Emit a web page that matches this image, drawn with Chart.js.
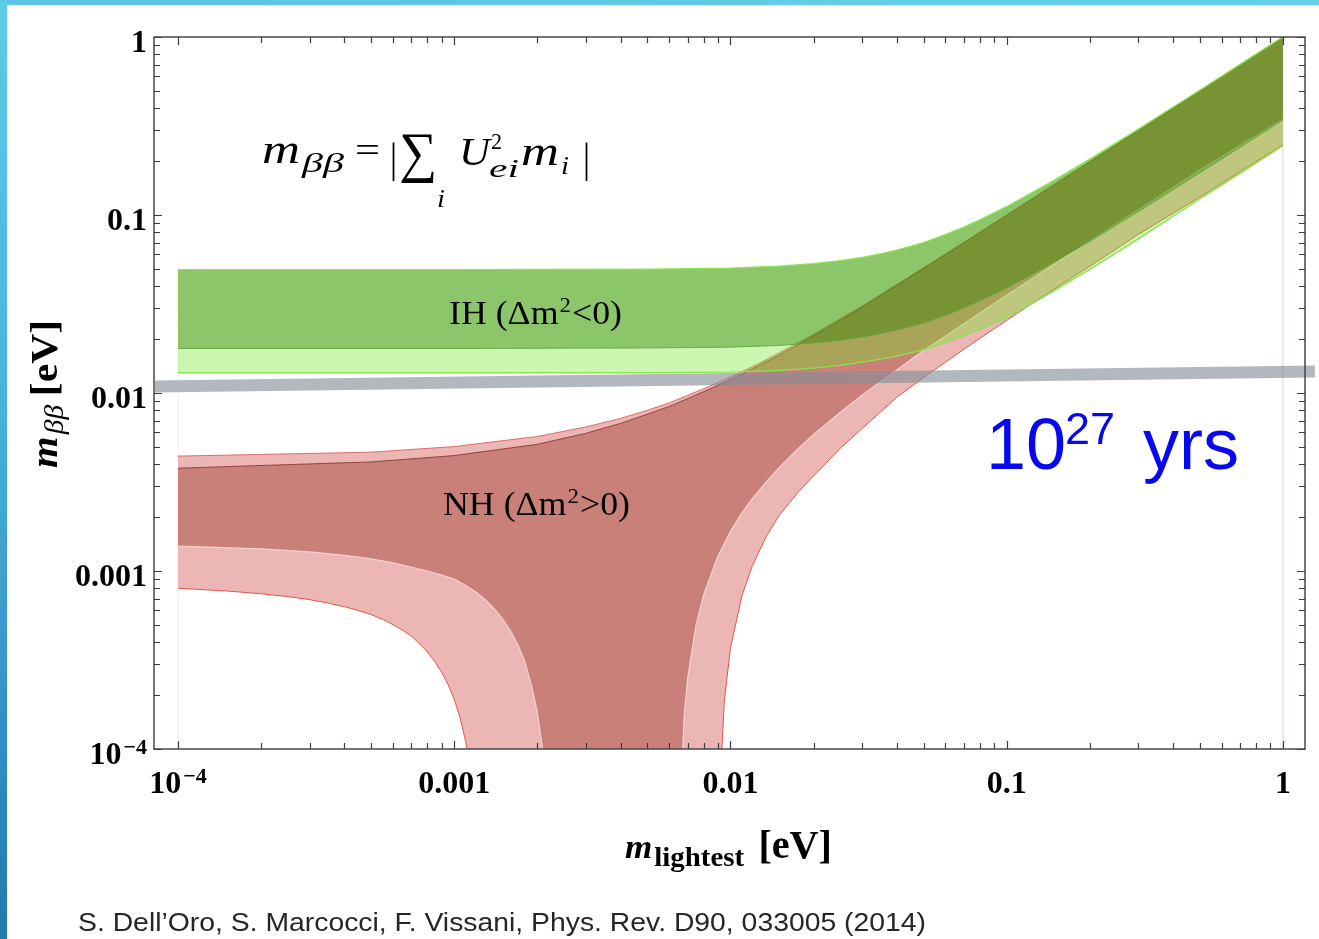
<!DOCTYPE html>
<html>
<head>
<meta charset="utf-8">
<script src="https://cdn.jsdelivr.net/npm/chart.js@4.4.1/dist/chart.umd.min.js"></script>
<style>
html,body{margin:0;padding:0;background:#fff;width:1319px;height:939px;overflow:hidden;}
#c{position:absolute;left:0;top:0;}
#topbar{position:absolute;left:0;top:0;width:1319px;height:5px;background:linear-gradient(90deg,#5cc3e2,#66d0ea);}
#leftbar{position:absolute;left:0;top:0;width:7px;height:939px;background:linear-gradient(180deg,#5ecbe8 0%,#4bb4dc 40%,#3393c6 75%,#2479ad 100%);}
</style>
</head>
<body>
<canvas id="c" width="1319" height="939"></canvas>
<div id="topbar"></div>
<div id="leftbar"></div>
<script>
// ---------------- DATA ----------------
const xTickValues = [1e-4, 1e-3, 1e-2, 1e-1, 1];
const xTickLabels = ['10^-4', '0.001', '0.01', '0.1', '1'];
const yTickValues = [1e-4, 1e-3, 1e-2, 1e-1, 1];
const yTickLabels = ['10^-4', '0.001', '0.01', '0.1', '1'];

// Inverted hierarchy band (green)
const ihX        = [1e-4, 1e-3, 5e-3, 0.01, 0.015, 0.02, 0.025, 0.03, 0.035, 0.04, 0.045, 0.05, 0.06, 0.07, 0.08, 0.1, 0.12, 0.15, 0.2, 0.3, 0.5, 0.7, 1];
const ihTop      = [0.0493, 0.0493, 0.0496, 0.0503, 0.0515, 0.0533, 0.0553, 0.0578, 0.0605, 0.0635, 0.0667, 0.0700, 0.0775, 0.0855, 0.0940, 0.1115, 0.130, 0.158, 0.206, 0.304, 0.502, 0.701, 1.0];
const ihInnerLow = [0.0178, 0.0178, 0.0179, 0.0181, 0.0185, 0.0191, 0.0198, 0.0206, 0.0216, 0.0226, 0.0236, 0.0247, 0.0273, 0.0300, 0.0330, 0.0389, 0.0452, 0.0546, 0.0711, 0.1045, 0.1725, 0.240, 0.342];
const ihOuterLow = [0.0130, 0.0130, 0.0130, 0.0131, 0.0134, 0.0138, 0.0143, 0.0149, 0.0155, 0.0161, 0.0168, 0.0175, 0.0192, 0.0210, 0.0228, 0.0265, 0.0310, 0.0378, 0.0495, 0.0735, 0.1230, 0.1715, 0.245];

// Normal hierarchy band (red)
const nhTopX     = [1e-4, 5e-4, 1e-3, 2e-3, 3e-3, 4e-3, 5e-3, 6e-3, 7e-3, 0.0085, 0.01, 0.0125, 0.015, 0.0175, 0.02, 0.025, 0.03, 0.04, 0.05, 0.07, 0.1, 0.2, 0.5, 1];
const nhOuterTop = [0.00442, 0.00465, 0.00500, 0.00570, 0.00645, 0.00720, 0.0080, 0.0088, 0.0097, 0.0110, 0.0123, 0.0145, 0.0168, 0.0191, 0.0214, 0.0261, 0.0308, 0.0407, 0.0505, 0.0702, 0.1000, 0.1995, 0.499, 1.0];
const nhInnerTop = [0.00378, 0.00410, 0.00445, 0.00515, 0.00594, 0.00675, 0.0076, 0.0084, 0.0093, 0.0106, 0.0119, 0.0141, 0.0163, 0.0186, 0.0209, 0.0256, 0.0303, 0.0402, 0.0500, 0.0698, 0.0997, 0.1990, 0.498, 0.999];

const nhOuterLowLeftX  = [1e-4, 1.5e-4, 2e-4, 2.5e-4, 3e-4, 3.5e-4, 4e-4, 4.5e-4, 5e-4, 5.5e-4, 6e-4, 6.5e-4, 7e-4, 7.5e-4, 8e-4, 8.5e-4, 9e-4, 9.5e-4, 1.0e-3, 1.05e-3, 1.1e-3, 1.15e-3, 1.2e-3, 1.25e-3];
const nhOuterLowLeftY  = [0.000800, 0.000772, 0.000745, 0.000718, 0.000690, 0.000660, 0.000630, 0.000600, 0.000570, 0.000535, 0.000500, 0.000465, 0.000430, 0.000390, 0.000350, 0.000310, 0.000270, 0.000230, 0.000190, 0.000150, 0.000110, 0.000075, 0.000040, 0.000005];
const nhOuterLowRightX = [0.0090, 0.0092, 0.0095, 0.010, 0.011, 0.012, 0.0135, 0.015, 0.0175, 0.02, 0.025, 0.03, 0.04, 0.05, 0.06, 0.08, 0.1, 0.15, 0.2, 0.3, 0.5, 1];
const nhOuterLowRightY = [0.000005, 0.00007, 0.000186, 0.000369, 0.000725, 0.00107, 0.00157, 0.00205, 0.00275, 0.00342, 0.00490, 0.00633, 0.00946, 0.0122, 0.0149, 0.0203, 0.0256, 0.0387, 0.0515, 0.0779, 0.126, 0.248];

const nhInnerLowLeftX  = [1e-4, 2e-4, 3e-4, 4e-4, 5e-4, 6e-4, 7e-4, 8e-4, 9e-4, 1e-3, 1.1e-3, 1.2e-3, 1.3e-3, 1.4e-3, 1.5e-3, 1.6e-3, 1.7e-3, 1.8e-3, 1.9e-3, 2.0e-3, 2.1e-3, 2.2e-3, 2.24e-3];
const nhInnerLowLeftY  = [0.00138, 0.00133, 0.00128, 0.001225, 0.00117, 0.00111, 0.00105, 0.00100, 0.00095, 0.000900, 0.000830, 0.000760, 0.000685, 0.000610, 0.000535, 0.000460, 0.000385, 0.000310, 0.000230, 0.000160, 0.000094, 0.000030, 0.000004];
const nhInnerLowRightX = [0.0065, 0.0066, 0.0068, 0.0070, 0.0075, 0.008, 0.009, 0.010, 0.011, 0.012, 0.0135, 0.015, 0.0175, 0.02, 0.025, 0.03, 0.04, 0.05, 0.06, 0.08, 0.1, 0.15, 0.2, 0.3, 0.5, 1];
const nhInnerLowRightY = [0.000005, 0.000055, 0.000155, 0.00025, 0.000495, 0.000735, 0.00121, 0.00167, 0.00212, 0.00255, 0.00318, 0.00381, 0.00483, 0.00585, 0.00780, 0.00976, 0.01347, 0.01735, 0.02086, 0.02814, 0.0354, 0.05337, 0.0714, 0.1071, 0.1787, 0.345];

// Sensitivity line (10^27 yrs)
const sensX = [8.25e-5, 1.306];
const sensY = [0.01088, 0.0132];

// Region edges
const edgeRightX = [1, 1];       const edgeRightY = [1e-4, 1];
const edgeLeftX  = [1e-4, 1e-4]; const edgeLeftY  = [1e-4, 0.0493];

// ---------------- helpers ----------------
const SERIF = "'Liberation Serif','Times New Roman',serif";
const SANS  = "'Liberation Sans',Arial,sans-serif";
function pts(xs, ys) { return xs.map((x, i) => ({x: x, y: ys[i]})); }
function rev(a) { return a.slice().reverse(); }

const ihOuterPoly = [...pts(ihX, ihTop), ...rev(pts(ihX, ihOuterLow))];
const ihInnerPoly = [...pts(ihX, ihTop), ...rev(pts(ihX, ihInnerLow))];
const nhOuterPoly = [...pts(nhTopX, nhOuterTop), ...rev(pts(nhOuterLowRightX, nhOuterLowRightY)), ...rev(pts(nhOuterLowLeftX, nhOuterLowLeftY))];
const nhInnerPoly = [...pts(nhTopX, nhInnerTop), ...rev(pts(nhInnerLowRightX, nhInnerLowRightY)), ...rev(pts(nhInnerLowLeftX, nhInnerLowLeftY))];

function fillSet(label, data, color, order) {
  return { label, data, backgroundColor: color, borderWidth: 0, borderColor: 'rgba(0,0,0,0)',
           pointRadius: 0, fill: 'shape', tension: 0, order };
}
function edgeSet(label, data, color, width, order) {
  return { label, data, borderColor: color, borderWidth: width, pointRadius: 0, fill: false, tension: 0, order };
}

function drawFit(ctx, text, x, y, font, width, color) {
  ctx.font = font;
  const w = ctx.measureText(text).width;
  ctx.save(); ctx.translate(x, y); ctx.scale(width / w, 1);
  ctx.fillStyle = color || '#000'; ctx.fillText(text, 0, 0); ctx.restore();
}
// parts: {t, font, dy} or number (gap); drawn to total width
function drawLabel(ctx, parts, x, y, total, color) {
  let nat = 0;
  for (const p of parts) { if (typeof p === 'number') nat += p; else { ctx.font = p.font; nat += ctx.measureText(p.t).width; } }
  const s = total ? total / nat : 1;
  ctx.save(); ctx.translate(x, y); ctx.scale(s, 1); ctx.fillStyle = color || '#000';
  let cx = 0;
  for (const p of parts) {
    if (typeof p === 'number') { cx += p; continue; }
    ctx.font = p.font; ctx.fillText(p.t, cx, p.dy || 0); cx += ctx.measureText(p.t).width;
  }
  ctx.restore();
}
function powLabel(ctx, x, y, align) {
  ctx.font = 'bold 32px ' + SERIF; const w1 = ctx.measureText('10').width;
  ctx.font = 'bold 22px ' + SERIF; const w2 = ctx.measureText('\u22124').width;
  const tw = w1 + w2 + 2;
  const x0 = align === 'center' ? x - tw / 2 : x - tw;
  ctx.fillStyle = '#000';
  ctx.font = 'bold 32px ' + SERIF; ctx.fillText('10', x0, y);
  ctx.font = 'bold 22px ' + SERIF; ctx.fillText('\u22124', x0 + w1 + 2, y - 10);
}

const decor = {
  id: 'decor',
  afterDraw(chart) {
    const ctx = chart.ctx, a = chart.chartArea, xs = chart.scales.x, ys = chart.scales.y;
    ctx.save();
    // frame
    ctx.strokeStyle = '#3c3c3c'; ctx.lineWidth = 1.4;
    ctx.strokeRect(a.left, a.top, a.right - a.left, a.bottom - a.top);
    // inward ticks
    ctx.lineWidth = 1.2;
    const mult = [1, 2, 3, 4, 5, 6, 7, 8, 9];
    ctx.beginPath();
    for (let n = -4; n <= 0; n++) {
      for (const k of mult) {
        const v = k * Math.pow(10, n);
        if (v > 1.0001) continue;
        const len = k === 1 ? 8 : 6;
        const px = Math.round(xs.getPixelForValue(v)) + 0.5;
        ctx.moveTo(px, a.bottom); ctx.lineTo(px, a.bottom - len);
        ctx.moveTo(px, a.top); ctx.lineTo(px, a.top + len);
        const py = Math.round(ys.getPixelForValue(v)) + 0.5;
        ctx.moveTo(a.left, py); ctx.lineTo(a.left + len, py);
        ctx.moveTo(a.right, py); ctx.lineTo(a.right - len, py);
      }
    }
    ctx.stroke();

    ctx.textBaseline = 'alphabetic';
    // tick labels
    ctx.fillStyle = '#000';
    xTickValues.forEach((v, i) => {
      const px = xs.getPixelForValue(v);
      if (xTickLabels[i] === '10^-4') { powLabel(ctx, px, 793, 'center'); return; }
      ctx.font = 'bold 32px ' + SERIF; ctx.textAlign = 'center'; ctx.fillText(xTickLabels[i], px, 793);
    });
    yTickValues.forEach((v, i) => {
      const py = ys.getPixelForValue(v);
      if (yTickLabels[i] === '10^-4') { ctx.textAlign = 'left'; powLabel(ctx, 147, py + 15, 'right'); return; }
      ctx.font = 'bold 32px ' + SERIF; ctx.textAlign = 'right'; ctx.fillText(yTickLabels[i], 147, py + 15);
    });
    ctx.textAlign = 'left';

    // x axis title
    drawLabel(ctx, [
      { t: 'm', font: 'bold italic 34px ' + SERIF },
      2,
      { t: 'lightest', font: 'bold 28px ' + SERIF, dy: 8 },
      14,
      { t: '[eV]', font: 'bold 39px ' + SERIF }
    ], 625, 858, 207);
    // y axis title (rotated)
    ctx.save();
    ctx.translate(57, 468); ctx.rotate(-Math.PI / 2);
    drawLabel(ctx, [
      { t: 'm', font: 'bold italic 37px ' + SERIF },
      2,
      { t: '\u03b2\u03b2', font: 'italic 27px ' + SERIF, dy: 6 },
      8,
      { t: '[eV]', font: 'bold 38px ' + SERIF }
    ], 0, 0, 148);
    ctx.restore();

    // formula
    drawFit(ctx, 'm', 262, 163, 'italic 40px ' + SERIF, 38);
    drawFit(ctx, '\u03b2\u03b2', 302, 172, 'italic 28px ' + SERIF, 42);
    drawFit(ctx, '=', 355, 162, '36px ' + SERIF, 25);
    drawFit(ctx, '|', 390, 172, '42px ' + SERIF, 7);
    drawFit(ctx, '\u2211', 399, 171, '56px ' + SERIF, 38);
    drawFit(ctx, 'i', 437, 207, 'italic 25px ' + SERIF, 8);
    drawFit(ctx, 'U', 459, 165, 'italic 40px ' + SERIF, 31);
    drawFit(ctx, '2', 491, 149, '24px ' + SERIF, 11);
    drawFit(ctx, 'ei', 489, 177, 'italic 26px ' + SERIF, 30);
    drawFit(ctx, 'm', 521, 165, 'italic 40px ' + SERIF, 38);
    drawFit(ctx, 'i', 561, 174, 'italic 25px ' + SERIF, 8);
    drawFit(ctx, '|', 583, 172, '42px ' + SERIF, 7);

    // band labels
    drawLabel(ctx, [
      { t: 'IH (\u0394m', font: '33px ' + SERIF }, 1,
      { t: '2', font: '21px ' + SERIF, dy: -12 }, 1,
      { t: '<0)', font: '33px ' + SERIF }
    ], 449, 324, 173);
    drawLabel(ctx, [
      { t: 'NH (\u0394m', font: '33px ' + SERIF }, 1,
      { t: '2', font: '21px ' + SERIF, dy: -12 }, 1,
      { t: '>0)', font: '33px ' + SERIF }
    ], 443, 515, 187);

    // 10^27 yrs
    const blue = 'rgb(8,8,240)';
    drawLabel(ctx, [{ t: '10', font: '72px ' + SANS }], 986, 469, 0, blue);
    drawLabel(ctx, [{ t: '27', font: '45px ' + SANS }], 1065, 444, 0, blue);
    drawLabel(ctx, [{ t: 'yrs', font: '72px ' + SANS }], 1143, 469, 0, blue);

    // citation
    drawFit(ctx, 'S. Dell\u2019Oro, S. Marcocci, F. Vissani, Phys. Rev. D90, 033005 (2014)', 78, 931, '26px ' + SANS, 848, '#262626');
    ctx.restore();
  }
};

new Chart(document.getElementById('c'), {
  type: 'line',
  data: {
    datasets: [
      { label: 'sensitivity', data: pts(sensX, sensY), borderColor: 'rgba(133,140,152,0.62)', borderWidth: 12,
        pointRadius: 0, fill: false, clip: false, order: 0, borderCapStyle: 'butt' },
      edgeSet('IH top', pts(ihX, ihTop), '#8ce34f', 1.4, 1),
      edgeSet('IH outer low', pts(ihX, ihOuterLow), '#8ce34f', 1.4, 1),
      edgeSet('IH inner low', pts(ihX, ihInnerLow), 'rgba(95,170,55,0.9)', 1, 1),
      fillSet('IH inner', ihInnerPoly, 'rgba(44,122,1,0.40)', 2),
      fillSet('IH outer', ihOuterPoly, 'rgba(109,232,29,0.35)', 3),
      edgeSet('NH outer top', pts(nhTopX, nhOuterTop), 'rgba(214,100,95,0.9)', 1, 4),
      edgeSet('NH inner top', pts(nhTopX, nhInnerTop), 'rgba(135,50,45,0.85)', 1, 4),
      edgeSet('NH inner low left', pts(nhInnerLowLeftX, nhInnerLowLeftY), 'rgba(246,214,212,0.95)', 1.2, 4),
      edgeSet('NH inner low right', pts(nhInnerLowRightX, nhInnerLowRightY), 'rgba(246,214,212,0.95)', 1.2, 4),
      edgeSet('NH outer low left', pts(nhOuterLowLeftX, nhOuterLowLeftY), 'rgba(222,80,70,0.95)', 1, 4),
      edgeSet('NH outer low right', pts(nhOuterLowRightX, nhOuterLowRightY), 'rgba(222,80,70,0.95)', 1, 4),
      fillSet('NH inner', nhInnerPoly, 'rgb(201,128,121)', 5),
      fillSet('NH outer', nhOuterPoly, 'rgb(235,182,180)', 6),
      edgeSet('edge right', pts(edgeRightX, edgeRightY), 'rgba(236,200,205,0.9)', 1, 7),
      edgeSet('edge left', pts(edgeLeftX, edgeLeftY), 'rgba(238,238,238,1)', 1, 8)
    ]
  },
  options: {
    responsive: false,
    devicePixelRatio: 1,
    animation: false,
    events: [],
    layout: { padding: { left: 0, right: 14, top: 37, bottom: 0 } },
    plugins: { legend: { display: false }, tooltip: { enabled: false } },
    scales: {
      x: {
        type: 'logarithmic', position: 'bottom',
        min: Math.pow(10, -4.087), max: Math.pow(10, 0.08),
        grid: { display: false, drawTicks: false }, border: { display: false },
        afterFit: (s) => { s.height = 190; },
        afterBuildTicks: (s) => { s.ticks = xTickValues.map(v => ({ value: v })); },
        ticks: { display: false }
      },
      y: {
        type: 'logarithmic', position: 'left',
        min: 1e-4, max: 1,
        grid: { display: false, drawTicks: false }, border: { display: false },
        afterFit: (s) => { s.width = 154; },
        afterBuildTicks: (s) => { s.ticks = yTickValues.map(v => ({ value: v })); },
        ticks: { display: false }
      }
    }
  },
  plugins: [decor]
});
</script>
</body>
</html>
